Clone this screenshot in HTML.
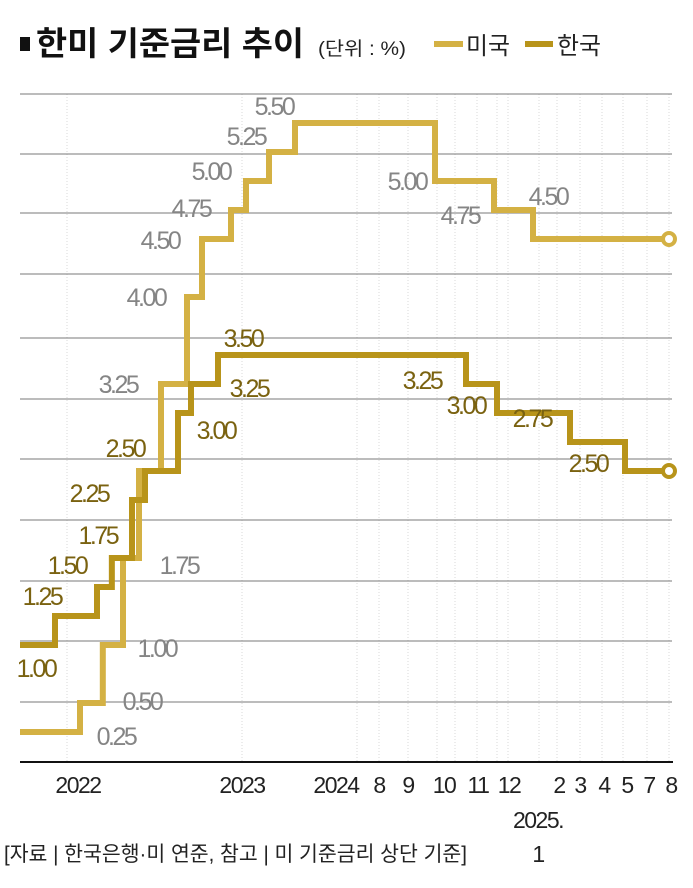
<!DOCTYPE html>
<html><head><meta charset="utf-8">
<style>
html,body{margin:0;padding:0;background:#fff;}
svg{display:block;font-family:"Liberation Sans","Noto Sans CJK KR",sans-serif;}
</style></head>
<body>
<svg id="chart" width="693" height="888" viewBox="0 0 693 888" xmlns="http://www.w3.org/2000/svg">
  <g>
    <rect x="20" y="37" width="10" height="14" fill="#111"/>
    <text x="36" y="55" font-size="33" font-weight="bold" fill="#111" textLength="268" lengthAdjust="spacingAndGlyphs">한미 기준금리 추이</text>
    <text x="318" y="55" font-size="19" fill="#222" textLength="88" lengthAdjust="spacingAndGlyphs">(단위 : %)</text>
  </g>
  <g>
    <g>
      <line x1="434" y1="44" x2="463" y2="44" stroke="#d4b144" stroke-width="6"/>
      <text x="466" y="54" font-size="24" fill="#222" textLength="44" lengthAdjust="spacingAndGlyphs">미국</text>
    </g>
    <g>
      <line x1="525" y1="44" x2="553" y2="44" stroke="#b8941a" stroke-width="6"/>
      <text x="557" y="54" font-size="24" fill="#222" textLength="44" lengthAdjust="spacingAndGlyphs">한국</text>
    </g>
  </g>
  <g id="vgrid"></g>
  <g id="hgrid"></g>
  <line x1="20" y1="762" x2="673" y2="762" stroke="#111" stroke-width="2"/>
  <g font-size="23" fill="#222" text-anchor="middle" letter-spacing="-1.5">
    <text x="78" y="793">2022</text>
    <text x="242" y="793">2023</text>
    <text x="336" y="793">2024</text>
    <text x="379" y="793">8</text>
    <text x="408" y="793">9</text>
    <text x="444" y="793">10</text>
    <text x="478" y="793">11</text>
    <text x="509" y="793">12</text>
    <text x="559" y="793">2</text>
    <text x="580" y="793">3</text>
    <text x="604" y="793">4</text>
    <text x="627" y="793">5</text>
    <text x="649" y="793">7</text>
    <text x="671" y="793">8</text>
    <text x="538" y="828">2025.</text>
    <text x="538" y="862">1</text>
  </g>
  <g id="series"></g>
  <text x="4" y="861" font-size="21" fill="#222" textLength="463" lengthAdjust="spacingAndGlyphs">[자료 | 한국은행·미 연준, 참고 | 미 기준금리 상단 기준]</text>
</svg>
<script>
const usDates = ['2021-11-20','2022-03-17','2022-05-04','2022-06-16','2022-07-28','2022-09-22','2022-11-03','2022-12-15','2023-02-02','2023-03-22','2023-05-03','2023-07-26','2024-09-18','2024-11-07','2024-12-18'];
const usValues = [0.25,0.50,1.00,1.75,2.50,3.25,4.00,4.50,4.75,5.00,5.25,5.50,5.00,4.75,4.50];
const usLabels = ['0.25','0.50','1.00','1.75','','3.25','4.00','4.50','4.75','5.00','5.25','5.50','5.00','4.75','4.50'];
const krDates = ['2021-11-20','2022-01-14','2022-04-14','2022-05-26','2022-07-13','2022-08-25','2022-10-12','2022-11-24','2023-01-13','2024-10-11','2024-11-28','2025-02-25','2025-05-29'];
const krValues = [1.00,1.25,1.50,1.75,2.25,2.50,3.00,3.25,3.50,3.25,3.00,2.75,2.50];
const krLabels = ['1.00','1.25','1.50','1.75','2.25','2.50','3.00','3.25','3.50','3.25','3.00','2.75','2.50'];
const endDate = '2025-08-25';
// label offsets (layout)
const usOff = [[96,11],[62,5],[54,10],[56,14],[0,0],[-43,7],[-41,7],[-42,8],[-40,5],[-35,-3],[-23,-9],[-21,-10],[-28,7],[-34,12],[15,-36]];
const krOff = [[16,30],[-13,-13],[-30,-15],[-14,-16],[-43,0],[-20,-16],[38,24],[58,11],[25,-10],[-44,3],[-31,-1],[-38,-17],[-37,-1]];

// piecewise time axis (irregular, as in the original graphic)
const axisAnchors = [['2021-11-20',20],['2022-01-14',55],['2022-03-17',80],['2022-04-14',97],['2022-05-15',106],['2022-06-16',123],['2022-07-13',132],['2022-07-28',139],['2022-08-25',145],['2022-09-22',161],['2022-10-12',178],['2022-11-03',187],['2022-11-24',191],['2022-12-15',202],['2023-01-13',218],['2023-02-02',231],['2023-03-22',246],['2023-05-03',269],['2023-07-26',295],['2024-09-18',435],['2024-10-11',466],['2024-11-07',494],['2024-11-28',497],['2024-12-18',533],['2025-02-25',570],['2025-05-29',625],['2025-08-25',669]].map(a=>[Date.parse(a[0]),a[1]]);
function x(d){const t=Date.parse(d);const A=axisAnchors;
  if(t<=A[0][0])return A[0][1];
  for(let i=1;i<A.length;i++){if(t<=A[i][0]){const f=(t-A[i-1][0])/(A[i][0]-A[i-1][0]);return A[i-1][1]+f*(A[i][1]-A[i-1][1]);}}
  return A[A.length-1][1];}
function y(v){return 761-116*v;}

const NS='http://www.w3.org/2000/svg';
const hg=document.getElementById('hgrid');
[94,154,213,274,338,399,459,520,581,641,702].forEach(gy=>{
  const l=document.createElementNS(NS,'line');
  l.setAttribute('x1',20);l.setAttribute('x2',672);l.setAttribute('y1',gy);l.setAttribute('y2',gy);
  l.setAttribute('stroke','#7a7a7a');l.setAttribute('stroke-width','1');
  
  
  hg.appendChild(l);});
const vg=document.getElementById('vgrid');
[67,242,357,379,408,437,455,477,497,508,539,557,580,602,623,647,669].forEach(gx=>{
  const l=document.createElementNS(NS,'line');
  l.setAttribute('x1',gx);l.setAttribute('x2',gx);l.setAttribute('y1',94);l.setAttribute('y2',762);
  l.setAttribute('stroke','#d8d8d8');l.setAttribute('stroke-width','1');l.setAttribute('stroke-dasharray','1,2');
  
  
  vg.appendChild(l);});

const sg=document.getElementById('series');
function drawSeries(dates,vals,labels,offs,color,labelColor,name){
  let d='M'+x(dates[0])+','+y(vals[0]);
  for(let i=1;i<dates.length;i++){d+=' H'+x(dates[i])+' V'+y(vals[i]);}
  d+=' H'+x(endDate);
  const p=document.createElementNS(NS,'path');
  p.setAttribute('d',d);p.setAttribute('fill','none');p.setAttribute('stroke',color);
  p.setAttribute('stroke-width','6');p.setAttribute('stroke-linejoin','miter');
  
  
  sg.appendChild(p);
  const c=document.createElementNS(NS,'circle');
  c.setAttribute('cx',x(endDate));c.setAttribute('cy',y(vals[vals.length-1]));c.setAttribute('r',6);
  c.setAttribute('fill','#fff');c.setAttribute('stroke',color);c.setAttribute('stroke-width','4');
  
  
  sg.appendChild(c);
  for(let i=0;i<dates.length;i++){
    if(!labels[i])continue;
    const t=document.createElementNS(NS,'text');
    t.setAttribute('x',x(dates[i])+offs[i][0]);t.setAttribute('y',y(vals[i])+offs[i][1]+2);
    t.setAttribute('text-anchor','middle');t.setAttribute('font-size','25');
    t.setAttribute('fill',labelColor);t.setAttribute('letter-spacing','-2.5');
    t.textContent=labels[i];
    
    
    sg.appendChild(t);}
}
drawSeries(usDates,usValues,usLabels,usOff,'#d4b144','#858585','us');
drawSeries(krDates,krValues,krLabels,krOff,'#b8941a','#7a6210','korea');
</script>
</body></html>
